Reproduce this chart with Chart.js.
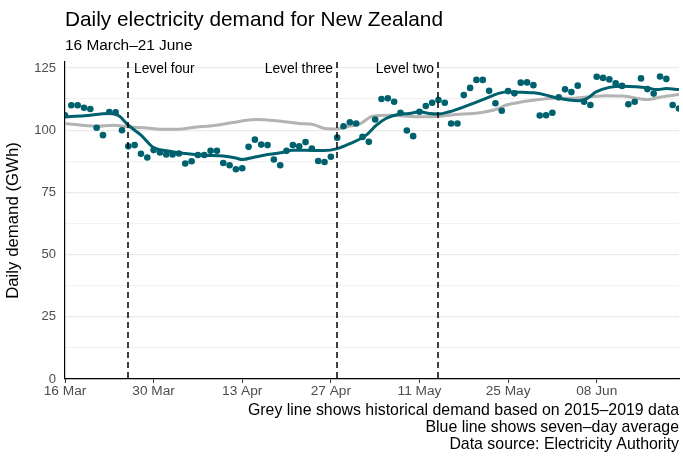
<!DOCTYPE html>
<html>
<head>
<meta charset="utf-8">
<script src="https://cdn.jsdelivr.net/npm/chart.js@4.4.0/dist/chart.umd.min.js"></script>
<style>
  html, body { margin: 0; padding: 0; background: #fff; }
  #wrap { width: 683px; height: 458px; }
</style>
</head>
<body>
<div id="wrap"><canvas id="chart" width="683" height="458"></canvas></div>
<script>
// daily demand in GWh, one value per day from 16 March (day 0) to 21 June (day 97)
const demand = [
  106, 110, 110, 109, 108.5, 101, 98, 107.3, 107.2, 100,
  93.5, 94, 90.5, 89, 92, 91, 90.2, 90.2, 90.6, 86.6,
  87.5, 90, 90, 91.7, 91.7, 86.8, 85.9, 84.3, 84.7, 93.3,
  96.2, 94.2, 94, 88.2, 85.9, 91.7, 94, 93.5, 95.2, 92.6,
  87.6, 87.2, 89.3, 97, 101.6, 103.2, 102.7, 97.3, 95.3, 104.3,
  112.5, 112.8, 111.4, 107, 99.9, 97.6, 107.4, 109.7, 111, 112.1,
  111, 102.7, 102.7, 114.1, 117, 120.2, 120.2, 115.8, 110.8, 107.8,
  115.7, 114.8, 119.1, 119.2, 118.1, 105.9, 106, 107, 113.2, 116.4,
  115.3, 117.9, 111.4, 110.1, 121.5, 121, 120.4, 118.8, 117.8, 110.4,
  111.4, 120.8, 116.5, 114.7, 121.6, 120.6, 110.1, 108.7
];

// seven-day average (blue line)
const avgDays = [0, 3, 7, 8.5, 10, 12, 14, 16, 19, 22, 25, 27, 28, 30, 32, 34, 36, 38, 41, 43,
  45, 47.6, 49.2, 50.7, 52.6, 54.4, 56, 57.6, 59, 60.7, 62.3, 64.4, 66.5, 68.5, 70.2, 72.3,
  74.1, 76, 77.6, 79.6, 81.2, 82.5, 83.9, 86, 88.1, 90.2, 92, 93.5, 95, 97];
const avgValues = [105.4, 105.8, 106.7, 105.8, 102, 98, 93, 91.7, 90.6, 89.9, 89.6, 88.8, 88.2, 89.2, 90.2, 90.9, 91.9, 91.9, 91.8, 92.6,
  94.6, 98, 102, 104.7, 106.3, 106.7, 107.4, 106.7, 106.5, 107.4, 108.7, 110.7, 112.8, 114.8, 115.4, 115.2,
  115, 114.1, 113, 112.1, 111.8, 112.8, 115.4, 117.2, 117.7, 117.5, 117, 116.3, 116.7, 116.3];

// historical demand 2015-2019 (grey line)
const histDays = [0, 5, 7.6, 10.3, 13, 15, 17.9, 20.2, 23.9, 26.5, 30.2, 33.4, 37, 39.2, 40.7, 42.9,
  45, 46.5, 48.6, 51.3, 53.9, 56.5, 59.3, 61.8, 64.4, 66.5, 68.5, 69.7, 72.3, 74.9, 77.5, 80.2,
  82.8, 85.4, 88.1, 91.8, 94.4, 97];
const histValues = [102.7, 101.6, 102, 101.3, 100.9, 100.4, 100.4, 101.1, 102, 103.1, 104.3, 103.8, 102.7, 102.3, 100.9, 100.5,
  101.7, 102.4, 105.6, 106, 105.6, 105.4, 105.6, 106.3, 106.7, 107.4, 108.7, 110.1, 111.4, 112.3, 112.8, 112.8,
  113.4, 113.8, 113.7, 112.3, 113.4, 114.3];

const tickDays = [0, 14, 28, 42, 56, 70, 84];
const tickLabels = ["16 Mar", "30 Mar", "13 Apr", "27 Apr", "11 May", "25 May", "08 Jun"];
const yTicks = [0, 12.5, 25, 37.5, 50, 62.5, 75, 87.5, 100, 112.5, 125];

const levelDays = [10, 43, 59];
const levelLabels = ["Level four", "Level three", "Level two"];

const titleText = "Daily electricity demand for New Zealand";
const subtitleText = "16 March\u201321 June";
const captionLines = [
  "Grey line shows historical demand based on 2015\u20132019 data",
  "Blue line shows seven\u2013day average",
  "Data source: Electricity Authority"
];

const TEAL = "#00616e";
const FONT = "'Liberation Sans', Arial, sans-serif";

const pairs = (xs, ys) => xs.map((x, i) => ({ x: x, y: ys[i] }));

const levelsPlugin = {
  id: "levels",
  afterDatasetsDraw(chart) {
    const { ctx, chartArea, scales } = chart;
    ctx.save();
    ctx.strokeStyle = "#000";
    ctx.lineWidth = 1.5;
    ctx.setLineDash([6, 4]);
    levelDays.forEach((d, i) => {
      const x = Math.round(scales.x.getPixelForValue(d));
      ctx.beginPath();
      ctx.moveTo(x, chartArea.top);
      ctx.lineTo(x, chartArea.bottom);
      ctx.stroke();
      ctx.font = "13.8px " + FONT;
      ctx.fillStyle = "#000";
      ctx.textBaseline = "middle";
      if (i === 0) {
        ctx.textAlign = "left";
        ctx.fillText(levelLabels[i], x + 6, chartArea.top + 7);
      } else {
        ctx.textAlign = "right";
        ctx.fillText(levelLabels[i], x - 4, chartArea.top + 7);
      }
    });
    ctx.restore();
  }
};

const textPlugin = {
  id: "texts",
  afterDraw(chart) {
    const { ctx, chartArea } = chart;
    ctx.save();
    ctx.fillStyle = "#000";
    ctx.textBaseline = "middle";
    ctx.textAlign = "left";
    ctx.font = "20.8px " + FONT;
    ctx.fillText(titleText, chartArea.left, 20);
    ctx.font = "15.4px " + FONT;
    ctx.fillText(subtitleText, chartArea.left, 46);
    ctx.textAlign = "right";
    ctx.font = "15.9px " + FONT;
    captionLines.forEach((t, i) => ctx.fillText(t, chartArea.right, 411 + i * 17));
    ctx.restore();
  }
};

new Chart(document.getElementById("chart"), {
  type: "scatter",
  data: {
    datasets: [
      {
        label: "Daily demand",
        data: demand.map((v, i) => ({ x: i, y: v })),
        backgroundColor: TEAL,
        borderColor: TEAL,
        pointRadius: 3.3,
        pointBorderWidth: 0,
        showLine: false,
        order: 1
      },
      {
        label: "Seven-day average",
        data: pairs(avgDays, avgValues),
        borderColor: TEAL,
        borderWidth: 3,
        pointRadius: 0,
        showLine: true,
        cubicInterpolationMode: "monotone",
        order: 2
      },
      {
        label: "Historical",
        data: pairs(histDays, histValues),
        borderColor: "#b3b3b3",
        borderWidth: 3,
        pointRadius: 0,
        showLine: true,
        cubicInterpolationMode: "monotone",
        order: 3
      }
    ]
  },
  options: {
    responsive: false,
    animation: false,
    layout: { padding: { top: 62, right: 3, bottom: 0, left: 0 } },
    plugins: {
      legend: { display: false },
      tooltip: { enabled: false }
    },
    scales: {
      x: {
        type: "linear",
        min: 0,
        max: 97,
        afterFit(scale) { scale.height = 79; },
        afterBuildTicks(scale) { scale.ticks = tickDays.map(v => ({ value: v })); },
        grid: { drawOnChartArea: false, drawTicks: true, tickLength: 4, color: "#333" },
        border: { color: "#000", width: 1.2 },
        ticks: {
          autoSkip: false,
          maxRotation: 0,
          padding: 0,
          color: "#4d4d4d",
          font: { family: FONT, size: 13.7 },
          callback: (v) => tickLabels[tickDays.indexOf(v)]
        }
      },
      y: {
        min: 0,
        max: 127.4,
        afterFit(scale) { scale.width = 65; },
        afterBuildTicks(scale) { scale.ticks = yTicks.map(v => ({ value: v })); },
        grid: {
          drawTicks: false,
          color: (c) => (c.tick && c.tick.value % 25 === 0 ? "#ebebeb" : "#f2f2f2"),
          lineWidth: 1.2
        },
        border: { color: "#000", width: 1.2 },
        ticks: {
          padding: 9,
          color: "#4d4d4d",
          font: { family: FONT, size: 13 },
          callback: (v) => (v % 25 === 0 ? String(v) : "")
        },
        title: {
          display: true,
          text: "Daily demand (GWh)",
          color: "#000",
          font: { family: FONT, size: 16.8 },
          padding: { top: 3, bottom: 2 }
        }
      }
    }
  },
  plugins: [levelsPlugin, textPlugin]
});
</script>
</body>
</html>
